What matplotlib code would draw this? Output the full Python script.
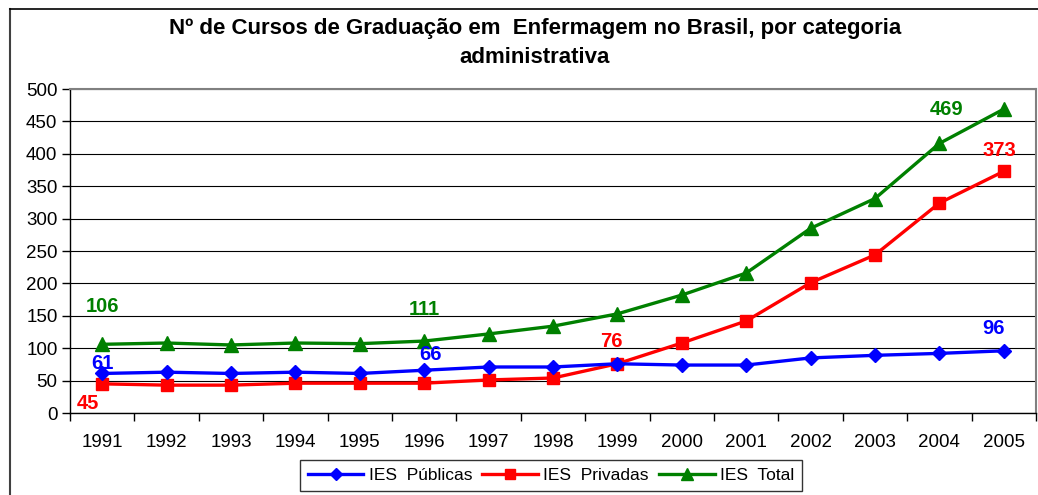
import matplotlib
matplotlib.use("Agg")
import matplotlib.pyplot as plt
import numpy as np
from matplotlib.lines import Line2D

plt.rcParams['font.family'] = ['Liberation Sans', 'DejaVu Sans']

anos = ['1991', '1992', '1993', '1994', '1995', '1996', '1997', '1998',
        '1999', '2000', '2001', '2002', '2003', '2004', '2005']
publicas = [61, 63, 61, 63, 61, 66, 71, 71, 76, 74, 74, 85, 89, 92, 96]
privadas = [45, 43, 43, 46, 46, 46, 51, 54, 76, 108, 142, 201, 244, 324, 373]
total = [106, 108, 105, 108, 107, 111, 122, 134, 153, 182, 216, 285, 331, 416, 469]

titulo = u"Nº de Cursos de Graduação em  Enfermagem no Brasil, por categoria\nadministrativa"

W, H = 1038, 495
fig = plt.figure(figsize=(W / 100, H / 100), dpi=100)
ax = fig.add_axes([70 / W, (H - 413) / H, (1036 - 70) / W, (413 - 89) / H])

x = np.arange(1, len(anos) + 1)
ax.plot(x, publicas, color='#0000ff', lw=2.4, marker='D', ms=7, label=u'IES  Públicas', zorder=4)
ax.plot(x, privadas, color='#ff0000', lw=2.4, marker='s', ms=8, label='IES  Privadas', zorder=3)
ax.plot(x, total, color='#008000', lw=2.4, marker='^', ms=10, label='IES  Total', zorder=2)

ax.set_xlim(0.5, len(anos) + 0.5)
ax.set_ylim(0, 500)
ax.set_yticks(np.arange(0, 501, 50))
ax.yaxis.grid(True, color='black', lw=0.8)
ax.set_axisbelow(True)

# ticks between categories, labels at centres
ax.set_xticks(np.arange(0.5, len(anos) + 1, 1))
ax.set_xticklabels([])
ax.set_xticks(x, minor=True)
ax.set_xticklabels(anos, minor=True)
ax.tick_params(axis='x', which='major', direction='out', length=6, width=1, color='black')
ax.tick_params(axis='x', which='minor', length=0, pad=15, labelsize=13.5)
ax.tick_params(axis='y', direction='out', length=6, width=1, labelsize=13.5, pad=3)

for s in ['left', 'bottom']:
    ax.spines[s].set_color('black')
    ax.spines[s].set_linewidth(1)
for s in ['top', 'right']:
    ax.spines[s].set_color('#808080')
    ax.spines[s].set_linewidth(1.5)

# data labels (index, series, colour, offset in pixels)
rotulos = [
    (0, total, '#008000', (0, 38)),
    (5, total, '#008000', (0, 32)),
    (0, publicas, '#0000ff', (0, 10)),
    (5, publicas, '#0000ff', (6, 16)),
    (0, privadas, '#ff0000', (-14, -20)),
    (8, privadas, '#ff0000', (-6, 22)),
    (14, total, '#008000', (-57, 0)),
    (14, privadas, '#ff0000', (-4, 21)),
    (14, publicas, '#0000ff', (-10, 22)),
]
for i, serie, cor, off in rotulos:
    ax.annotate(str(serie[i]), (x[i], serie[i]), xytext=off, textcoords='offset pixels',
                ha='center', va='center', color=cor, fontsize=14.5, fontweight='bold')

fig.text(535 / W, 1 - 43 / H, titulo, ha='center', va='center', fontsize=16,
         fontweight='bold', linespacing=1.5)

# outer chart border
fig.add_artist(Line2D([10 / W, 10 / W], [0, 1 - 9 / H], color='#404040', lw=1.5))
fig.add_artist(Line2D([10 / W, 1], [1 - 9 / H, 1 - 9 / H], color='black', lw=1.2))

leg = fig.legend(loc='upper center', bbox_to_anchor=(551 / W, 1 - 460 / H), ncol=3,
                 fontsize=12.5, frameon=True, fancybox=False, edgecolor='black',
                 handlelength=3.2, handletextpad=0.3, columnspacing=0.6,
                 borderpad=0.45, borderaxespad=0, markerscale=0.9)
leg.get_frame().set_linewidth(1)

fig.savefig('out.png', dpi=100)
